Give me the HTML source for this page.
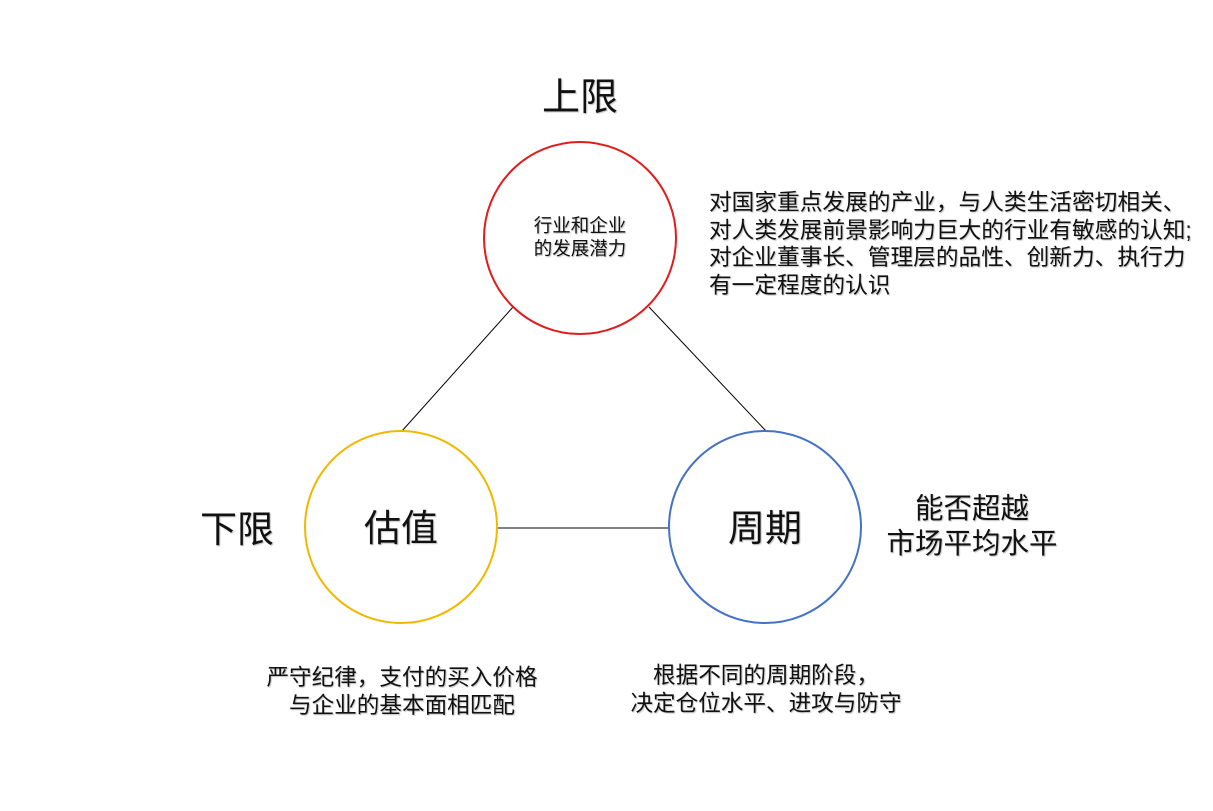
<!DOCTYPE html>
<html><head><meta charset="utf-8"><style>
body{margin:0;width:1213px;height:811px;background:#fff;position:relative;overflow:hidden;font-family:"Liberation Sans","Noto Sans CJK SC",sans-serif;color:#111}
.t{position:absolute;white-space:nowrap;text-shadow:1px 1px 1px rgba(0,0,0,.25)}
</style></head><body>
<svg width="1213" height="811" style="position:absolute;left:0;top:0">
<line x1="513" y1="307" x2="402" y2="431" stroke="#000" stroke-width="1"/>
<line x1="649" y1="307" x2="766" y2="431" stroke="#000" stroke-width="1"/>
<line x1="498" y1="528" x2="668" y2="528" stroke="#000" stroke-width="1"/>
<circle cx="580" cy="238" r="96" fill="none" stroke="#e01c1c" stroke-width="2"/>
<circle cx="401" cy="527" r="96" fill="none" stroke="#f2b800" stroke-width="2"/>
<circle cx="765" cy="527" r="96" fill="none" stroke="#4472c4" stroke-width="2"/>
</svg>
<div class="t" style="left:542px;top:66px;font-size:38px">上限</div>
<div class="t" style="left:480px;width:200px;top:214px;font-size:18.5px;line-height:23px;text-align:center">行业和企业<br>的发展潜力</div>
<div class="t" style="left:709px;top:189px;font-size:22.7px;line-height:27.5px">对国家重点发展的产业，与人类生活密切相关、<br>对人类发展前景影响力巨大的行业有敏感的认知;<br>对企业董事长、管理层的品性、创新力、执行力<br>有一定程度的认识</div>
<div class="t" style="left:200px;top:499px;font-size:37px">下限</div>
<div class="t" style="left:364px;top:498px;font-size:37px">估值</div>
<div class="t" style="left:728px;top:498px;font-size:37px">周期</div>
<div class="t" style="left:872px;width:200px;top:492px;font-size:28.5px;line-height:35px;text-align:center">能否超越<br>市场平均水平</div>
<div class="t" style="left:252px;width:300px;top:664px;font-size:22.6px;line-height:28px;text-align:center">严守纪律，支付的买入价格<br>与企业的基本面相匹配</div>
<div class="t" style="left:616px;width:300px;top:662px;font-size:22.6px;line-height:28px;text-align:center">根据不同的周期阶段，<br>决定仓位水平、进攻与防守</div>
</body></html>
